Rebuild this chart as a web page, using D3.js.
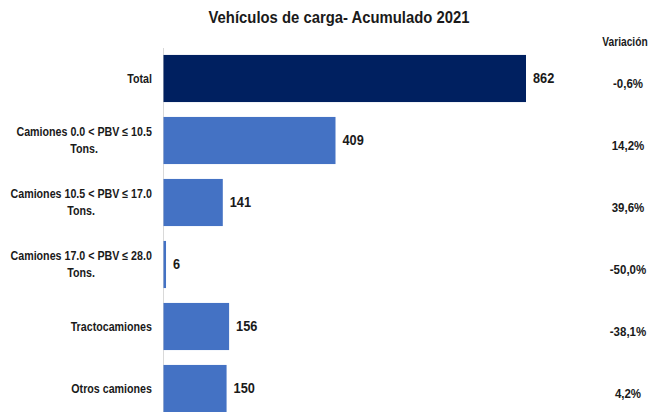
<!DOCTYPE html>
<html><head><meta charset="utf-8">
<script src="https://cdn.jsdelivr.net/npm/d3@7"></script>
<style>
body{margin:0;background:#fff;}
svg{display:block;}
text{font-family:"Liberation Sans",Arial,sans-serif;font-weight:bold;fill:#1a1a1a;}
</style></head>
<body><svg id="c" width="669" height="412"></svg>
<script>
const categories = [["Total"],["Camiones 0.0 < PBV ≤ 10.5","Tons."],["Camiones 10.5 < PBV ≤ 17.0","Tons."],["Camiones 17.0 < PBV ≤ 28.0","Tons."],["Tractocamiones"],["Otros camiones"]];
const values = [862,409,141,6,156,150];
const variation = ["-0,6%","14,2%","39,6%","-50,0%","-38,1%","4,2%"];
const colors = ["#002060","#4472C4","#4472C4","#4472C4","#4472C4","#4472C4"];
const title = "Vehículos de carga- Acumulado 2021";
const varHeader = "Variación";

const svg = d3.select("#c");
// condense text horizontally around its anchor x
function condense(sel, k){
  sel.each(function(){
    const ax = +this.getAttribute("x") || 0;
    this.setAttribute("transform",`translate(${ax},0) scale(${k},1) translate(${-ax},0)`);
  });
}
const x0 = 163.5;
const x = d3.scaleLinear().domain([0,862]).range([x0,526]);
const y = d3.scaleBand().domain(d3.range(values.length)).range([47.5,419.5]).paddingInner(0.24).paddingOuter(0.12);

svg.append("text").attr("x",339).attr("y",23).attr("text-anchor","middle").style("font-size","16.5px").text(title).call(condense,0.9);
svg.append("text").attr("x",625).attr("y",46).attr("text-anchor","middle").style("font-size","12px").text(varHeader).call(condense,0.85);

svg.append("line").attr("x1",x0).attr("x2",x0).attr("y1",48).attr("y2",412).attr("stroke","#d9d9d9").attr("stroke-width",1);

svg.selectAll("rect.bar").data(values).join("rect").attr("class","bar")
  .attr("x",x(0)).attr("y",(d,i)=>y(i)).attr("width",d=>x(d)-x(0)).attr("height",y.bandwidth())
  .attr("fill",(d,i)=>colors[i]);

svg.selectAll("text.val").data(values).join("text").attr("class","val")
  .attr("x",d=>x(d)+7).attr("y",(d,i)=>y(i)+y.bandwidth()/2+5).style("font-size","14.5px").text(d=>d).call(condense,0.88);

const kCat = 0.855, labelRight = 152;
categories.forEach((lines,i)=>{
  const cy = y(i)+y.bandwidth()/2;
  const lh = 17;
  const t = svg.append("text").attr("text-anchor","middle").style("font-size","12.5px");
  const spans = lines.map((l,j)=> t.append("tspan").attr("y",cy + (j-(lines.length-1)/2)*lh + 4.5).text(l));
  const w = d3.max(spans, s=>s.node().getComputedTextLength());
  const cx = labelRight - w*kCat/2;
  t.attr("x",cx);
  spans.forEach(s=>s.attr("x",cx));
  condense(t,kCat);
});

svg.selectAll("text.var").data(variation).join("text").attr("class","var")
  .attr("x",628).attr("y",(d,i)=>y(i)+y.bandwidth()/2+10).attr("text-anchor","middle").style("font-size","12.5px").text(d=>d).call(condense,0.92);
</script></body></html>
